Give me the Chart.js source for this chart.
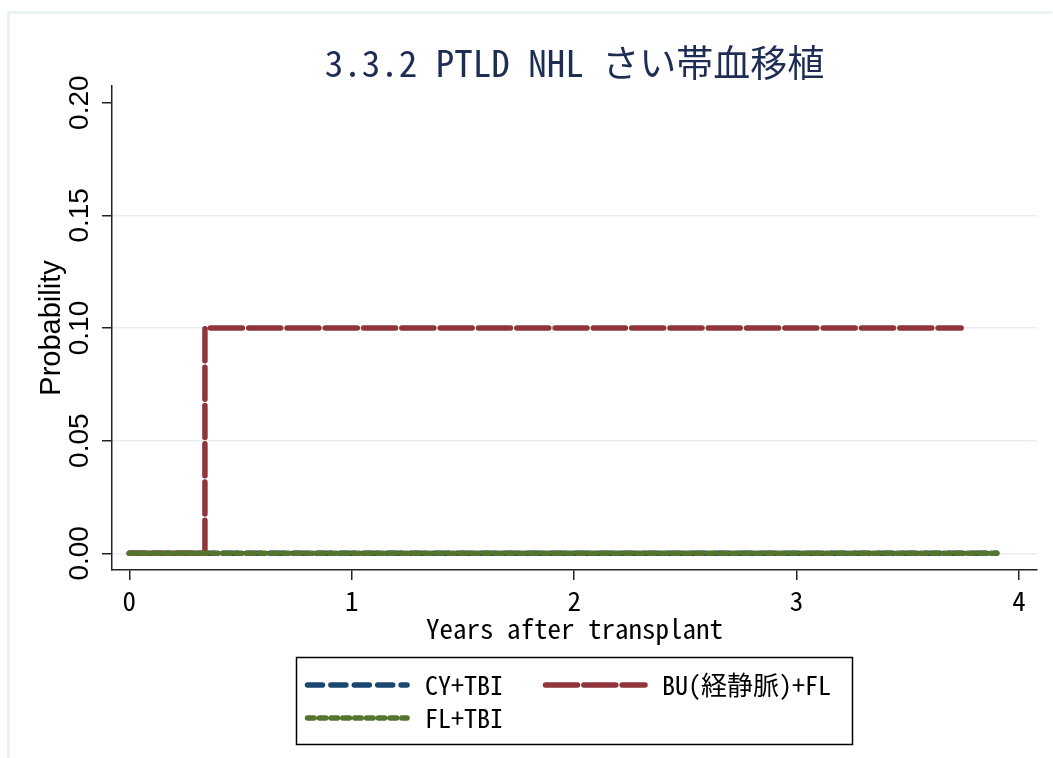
<!DOCTYPE html>
<html><head><meta charset="utf-8">
<script src="https://cdn.jsdelivr.net/npm/chart.js@4/dist/chart.umd.min.js"></script>
<style>html,body{margin:0;padding:0;background:#fff;} canvas{display:block;}</style>
</head><body>
<canvas id="c" width="1053" height="758"></canvas>
<script>
// ---- data ----
const titleText = '3.3.2 PTLD NHL さい帯血移植';
const xAxisTitle = 'Years after transplant';
const yAxisTitle = 'Probability';
const seriesLabels = ['CY+TBI', 'BU(経静脈)+FL', 'FL+TBI'];
const cyTimes = [0, 3.90];
const cyValues = [0, 0];
const buTimes = [0, 0.34, 3.74];
const buValues = [0, 0.10, 0.10];
const flTimes = [0, 3.90];
const flValues = [0, 0];
const xTicks = [0, 1, 2, 3, 4];
const yTicks = [0, 0.05, 0.10, 0.15, 0.20];

// ---- styles ----
const MONO = "'Noto Sans Mono CJK JP', 'Noto Sans CJK JP', 'DejaVu Sans Mono', monospace";
const SANS = "'Liberation Sans', Arial, sans-serif";
const colors = ['#1a476f', '#90353b', '#55752f'];
const dashes = [[15, 8.4], [32, 6.3], [6.5, 5.3]];

function pts(t, v) { return t.map((x, i) => ({x: x, y: v[i]})); }

const datasets = [
  {label: seriesLabels[0], data: pts(cyTimes, cyValues), order: 2},
  {label: seriesLabels[1], data: pts(buTimes, buValues), order: 1},
  {label: seriesLabels[2], data: pts(flTimes, flValues), order: 0},
].map((d, i) => Object.assign(d, {
  borderColor: colors[i], backgroundColor: colors[i], borderWidth: 5.5,
  borderDash: dashes[i], borderCapStyle: 'round', borderJoinStyle: 'round',
  pointRadius: 0, pointHoverRadius: 0, stepped: true, fill: false, tension: 0
}));

const legendPos = [
  {lx: 305, ly: 685, tx: 425},
  {lx: 543, ly: 685, tx: 662},
  {lx: 305, ly: 718, tx: 425},
];

const decor = {
  id: 'decor',
  beforeDraw(chart) {
    const ctx = chart.ctx;
    ctx.save();
    ctx.strokeStyle = '#e6eff1';
    ctx.lineWidth = 2.5;
    ctx.beginPath();
    ctx.moveTo(8.5, 758); ctx.lineTo(8.5, 12.5); ctx.lineTo(1052, 12.5);
    ctx.stroke();
    ctx.restore();
  },
  afterDraw(chart) {
    const ctx = chart.ctx;
    ctx.save();
    ctx.strokeStyle = '#000';
    ctx.lineWidth = 1.5;
    ctx.strokeRect(296.5, 657.5, 556, 87);
    chart.data.datasets.forEach((ds, i) => {
      const p = legendPos[i];
      ctx.save();
      ctx.strokeStyle = ds.borderColor;
      ctx.lineWidth = ds.borderWidth;
      ctx.lineCap = 'round';
      ctx.setLineDash(ds.borderDash);
      ctx.beginPath();
      ctx.moveTo(p.lx + 2.5, p.ly); ctx.lineTo(p.lx + 102, p.ly);
      ctx.stroke();
      ctx.restore();
      ctx.fillStyle = '#000';
      ctx.font = '26px ' + MONO;
      ctx.textBaseline = 'middle';
      ctx.textAlign = 'left';
      ctx.fillText(ds.label, p.tx, p.ly);
    });
    ctx.restore();
  }
};

new Chart(document.getElementById('c'), {
  type: 'line',
  data: {datasets: datasets},
  plugins: [decor],
  options: {
    responsive: false,
    animation: false,
    devicePixelRatio: 1,
    layout: {padding: {left: 0, right: 16, top: 0, bottom: 108}},
    plugins: {
      legend: {display: false},
      tooltip: {enabled: false},
      title: {
        display: true, text: titleText, fullSize: false,
        color: '#1e2d53',
        font: {family: MONO, size: 37, weight: 'normal'},
        padding: {top: 40.8, bottom: 0.8}
      }
    },
    scales: {
      x: {
        type: 'linear', min: -0.0778, max: 4.081,
        afterFit(s) { s.height = 80; },
        afterBuildTicks(s) { s.ticks = xTicks.map(v => ({value: v})); },
        border: {display: true, color: '#222', width: 1.5},
        grid: {drawOnChartArea: false, tickLength: 10, tickColor: '#222', lineWidth: 1.5},
        ticks: {color: '#000', font: {family: MONO, size: 27}, padding: 5, maxRotation: 0,
                includeBounds: false, callback: v => String(v)},
        title: {display: true, text: xAxisTitle, color: '#000',
                font: {family: MONO, size: 27}, padding: {top: 0, bottom: 5}}
      },
      y: {
        type: 'linear', min: -0.0074, max: 0.2074,
        afterFit(s) { s.width = 112; },
        afterBuildTicks(s) { s.ticks = yTicks.map(v => ({value: v})); },
        border: {display: true, color: '#222', width: 1.5},
        grid: {drawOnChartArea: true, tickLength: 10, lineWidth: 1.5,
               tickColor: '#222',
               color: c => (c.tick && c.tick.value > 0.19) ? 'rgba(0,0,0,0)' : '#e6eef0'},
        ticks: {color: '#000', font: {family: SANS, size: 28}, minRotation: 90, maxRotation: 90,
                crossAlign: 'center', padding: -5.5, includeBounds: false,
                callback: v => Number(v).toFixed(2)},
        title: {display: true, text: yAxisTitle, color: '#000',
                font: {family: SANS, size: 29}, padding: {top: 35, bottom: 0}}
      }
    }
  }
});
</script>
</body></html>
